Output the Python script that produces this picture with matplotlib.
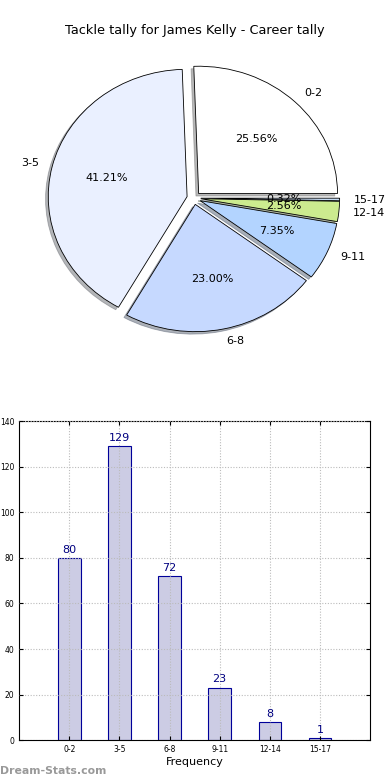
import numpy as np
import matplotlib as mpl
import matplotlib.pyplot as plt

mpl.rc('font', family='DejaVu Sans', size=8)
mpl.rc('figure', facecolor='w')

##### DATA #####
categories = ["0-2", "3-5", "6-8", "9-11", "12-14", "15-17"]
counts = [80, 129, 72, 23, 8, 1]
pieColors = ["#ffffff", "#eaf0ff", "#c6d9ff", "#b3d4ff", "#cceb8f", "#c6dcf4"]
explode = [0.05] * len(categories)
titleText = "Tackle tally for James Kelly - Career tally"
##### END DATA #####

fig = plt.figure(figsize=(3.9, 7.8), dpi=100)

# pie chart
axPie = fig.add_axes([0.052, 0.542, 0.89, 0.408])
wedges, texts, autotexts = axPie.pie(counts, labels=categories, colors=pieColors,
                                     explode=explode, autopct='%1.2f%%',
                                     shadow={'ox': -0.014, 'oy': -0.014, 'shade': 0.55},
                                     pctdistance=0.6, labeldistance=1.1,
                                     wedgeprops={'linewidth': 0.6, 'edgecolor': 'k'})
axPie.set_aspect('auto')
for t in texts + autotexts:
    t.set_fontsize(8)
fig.text(0.5, 0.961, titleText, ha='center', va='center', fontsize=9.3)

# bar chart
axBar = fig.add_axes([0.049, 0.051, 0.9, 0.409])
xPos = np.arange(len(categories))
bars = axBar.bar(xPos, counts, width=0.45, color="#cccce4", edgecolor="#000099", linewidth=0.8)
for x, v in zip(xPos, counts):
    axBar.text(x, v + 1.5, str(v), ha='center', va='bottom', color="#000080", fontsize=8)
axBar.set_xlim(-1, 6)
axBar.set_ylim(0, 140)
axBar.set_yticks(np.arange(0, 141, 20))
axBar.set_xticks(xPos)
axBar.set_xticklabels(categories)
axBar.tick_params(labelsize=5.5, direction='in', top=True, right=True, length=3)
axBar.grid(True, linestyle=(0, (1, 1.5)), color='#bbbbbb', linewidth=0.8)
axBar.set_axisbelow(False)
axBar.set_xlabel("Frequency", fontsize=8, labelpad=2)

fig.text(0.0, 0.012, "Dream-Stats.com", color="#999999", fontsize=7.8, fontweight='bold',
         ha='left', va='center')

plt.savefig("out.png", dpi=100)
